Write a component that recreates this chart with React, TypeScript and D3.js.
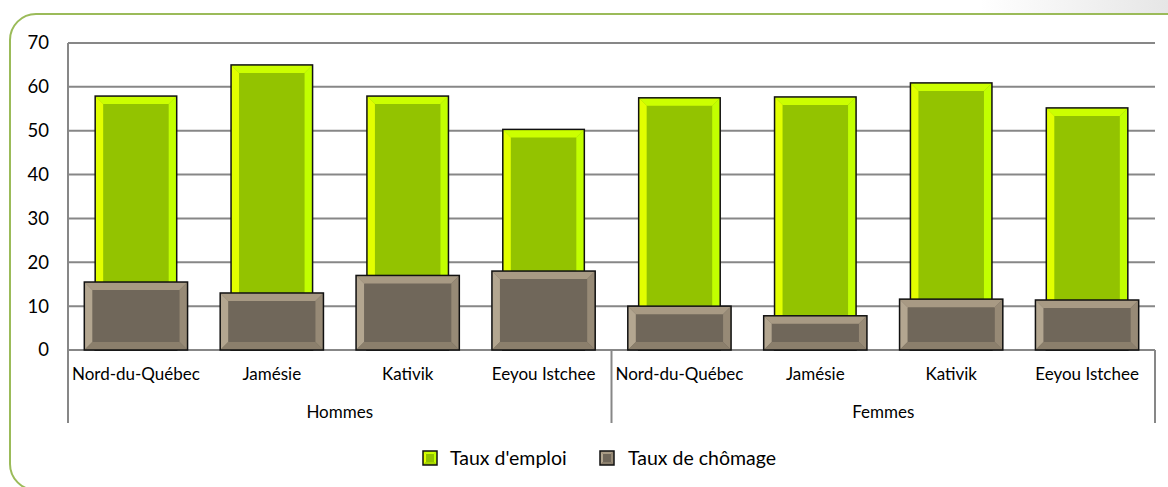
import React from 'react';
import * as d3 from 'd3';

const groups = ['Hommes', 'Femmes'];
const regions = ['Nord-du-Québec', 'Jamésie', 'Kativik', 'Eeyou Istchee'];
const tauxEmploi = [57.9, 65.0, 57.9, 50.3, 57.5, 57.7, 60.9, 55.2];
const tauxChomage = [15.5, 13.0, 17.0, 18.0, 10.0, 7.8, 11.6, 11.4];
const yTicks = [0, 10, 20, 30, 40, 50, 60, 70];

const W = 1168;
const H = 487;
const margin = { left: 68, right: 13, top: 43, bottom: 137 };
const FONT = 'Lato, "Open Sans", sans-serif';

const EMP = { top: '#CCFF00', left: '#E2FF00', right: '#C2FF00', bottom: '#A8D800', inner: '#93C300' };
const CHO = { top: '#A89A84', left: '#B3A690', right: '#978A76', bottom: '#8B7F6C', inner: '#70675A' };

type Pal = typeof EMP;

function Bevel({ x, y, w, h, pal, b = 8 }: { x: number; y: number; w: number; h: number; pal: Pal; b?: number }) {
  const bb = Math.min(b, h / 2, w / 2);
  const x2 = x + w, y2 = y + h;
  const pts = (a: number[][]) => a.map(p => p.join(',')).join(' ');
  return (
    <g>
      <rect x={x} y={y} width={w} height={h} fill={pal.inner} />
      <polygon points={pts([[x, y], [x2, y], [x2 - bb, y + bb], [x + bb, y + bb]])} fill={pal.top} />
      <polygon points={pts([[x, y], [x + bb, y + bb], [x + bb, y2 - bb], [x, y2]])} fill={pal.left} />
      <polygon points={pts([[x2, y], [x2, y2], [x2 - bb, y2 - bb], [x2 - bb, y + bb]])} fill={pal.right} />
      <polygon points={pts([[x, y2], [x + bb, y2 - bb], [x2 - bb, y2 - bb], [x2, y2]])} fill={pal.bottom} />
      <rect x={x} y={y} width={w} height={h} fill="none" stroke="#111" strokeWidth={1.5} />
    </g>
  );
}

export default function App() {
  const innerBottom = H - margin.bottom; // 350
  const cats = d3.range(tauxEmploi.length);
  const x = d3.scaleBand<number>().domain(cats).range([margin.left, W - margin.right]).padding(0);
  const y = d3.scaleLinear().domain([0, 70]).range([innerBottom, margin.top]);
  const bw = x.bandwidth();
  const empW = bw * 0.6;
  const choW = bw * 0.76;
  const groupW = bw * regions.length;

  return (
    <svg width={W} height={H} style={{ position: 'absolute', left: 0, top: 0, display: 'block' }} fontFamily={FONT}>
      <defs>
        <linearGradient id="bg" x1="0" x2="1" y1="0" y2="0">
          <stop offset="0" stopColor="#ffffff" />
          <stop offset="1" stopColor="#e6e6e6" />
        </linearGradient>
      </defs>
      <rect x={0} y={0} width={W} height={H} fill="#fff" />
      <rect x={980} y={0} width={W - 980} height={60} fill="url(#bg)" />
      <rect x={10} y={14} width={1184} height={476} rx={26} ry={26} fill="#fff" stroke="#9BBB59" strokeWidth={2} />

      {/* gridlines */}
      {yTicks.map(t => (
        <line key={t} x1={margin.left} x2={W - margin.right} y1={y(t)} y2={y(t)} stroke="#878787" strokeWidth={2} />
      ))}
      {/* y labels */}
      {yTicks.map(t => (
        <text key={'l' + t} x={49} y={y(t)} dy="0.35em" textAnchor="end" fontSize={18.5} fill="#000">{t}</text>
      ))}
      {/* axis and separators */}
      <line x1={margin.left} x2={margin.left} y1={margin.top} y2={423} stroke="#878787" strokeWidth={2} />
      {groups.map((g, i) => (
        <line key={g} x1={margin.left + groupW * (i + 1)} x2={margin.left + groupW * (i + 1)} y1={innerBottom} y2={423} stroke="#878787" strokeWidth={2} />
      ))}

      {/* bars */}
      {cats.map(i => {
        const cx = (x(i) as number) + bw / 2;
        return (
          <g key={i}>
            <Bevel x={cx - empW / 2} y={y(tauxEmploi[i])} w={empW} h={innerBottom - y(tauxEmploi[i])} pal={EMP} />
            <Bevel x={cx - choW / 2} y={y(tauxChomage[i])} w={choW} h={innerBottom - y(tauxChomage[i])} pal={CHO} />
          </g>
        );
      })}

      {/* category labels */}
      {cats.map(i => (
        <text key={'c' + i} x={(x(i) as number) + bw / 2} y={380} textAnchor="middle" fontSize={17} fill="#000">
          {regions[i % regions.length]}
        </text>
      ))}
      {groups.map((g, i) => (
        <text key={'g' + g} x={margin.left + groupW * i + groupW / 2} y={418} textAnchor="middle" fontSize={17} fill="#000">{g}</text>
      ))}

      {/* legend */}
      <g>
        <Bevel x={423} y={451} w={14} h={14} pal={EMP} b={3} />
        <text x={450} y={465} fontSize={19.5} fill="#000">Taux d'emploi</text>
        <Bevel x={600} y={451} w={14} h={14} pal={CHO} b={3} />
        <text x={628} y={465} fontSize={19.5} fill="#000">Taux de chômage</text>
      </g>
    </svg>
  );
}
